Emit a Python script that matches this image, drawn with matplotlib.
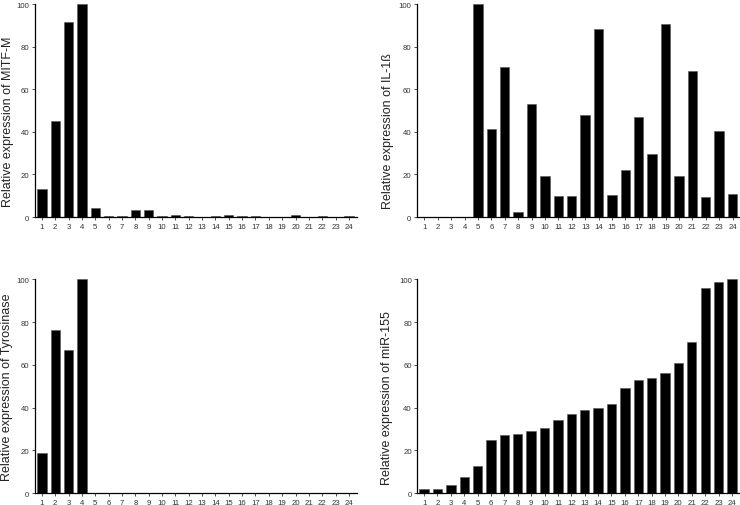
import numpy as np
import matplotlib
matplotlib.use('Agg')
import matplotlib.pyplot as plt

plt.rcParams['font.family'] = ['Liberation Sans', 'DejaVu Sans']

samples = list(range(1, 25))

mitf = [13, 45, 91.5, 100, 4.3, 0.3, 0.3, 3.3, 3.2, 0.3, 0.8, 0.3,
        0.1, 0.3, 0.8, 0.7, 0.3, 0.1, 0.1, 1.2, 0.1, 0.3, 0.1, 0.5]
il1b = [0, 0, 0, 0, 100, 41.4, 70.3, 2.3, 53.3, 19.5, 10, 10,
        47.8, 88.4, 10.2, 22.3, 46.9, 29.8, 90.8, 19.2, 68.8, 9.5, 40.3, 10.8]
tyr = [18.9, 76.4, 67.2, 100] + [0] * 20
mir155 = [2.0, 2.0, 3.6, 7.7, 12.5, 24.9, 27.2, 27.5, 29.1, 30.4, 34.3, 36.9,
          38.7, 39.7, 41.9, 49.0, 52.9, 53.7, 56.2, 60.7, 70.6, 95.9, 98.9, 100]

labels = ['Relative expression of MITF-M', 'Relative expression of IL-1ß',
          'Relative expression of Tyrosinase', 'Relative expression of miR-155']


def draw(ax, vals, label, xlim, lab_xy):
    ax.bar(samples, vals, width=0.7, color='black', edgecolor='#555555', linewidth=0.4)
    ax.set_xlim(*xlim)
    ax.set_ylim(0, 100)
    ax.set_xticks(samples)
    ax.set_yticks([0, 20, 40, 60, 80, 100])
    ax.tick_params(labelsize=5.6, length=2, width=0.6, pad=2, colors='#333333')
    for s in ['top', 'right']:
        ax.spines[s].set_visible(False)
    for s in ['left', 'bottom']:
        ax.spines[s].set_linewidth(0.9)
    ax.set_ylabel(label, fontsize=9, color='#222222')
    ax.yaxis.set_label_coords(*lab_xy)


fig = plt.figure(figsize=(7.4, 5.06), dpi=100)
ax1 = fig.add_axes([0.0473, 0.569, 0.435, 0.421])
ax2 = fig.add_axes([0.5635, 0.569, 0.435, 0.421])
ax3 = fig.add_axes([0.0473, 0.0237, 0.435, 0.422])
ax4 = fig.add_axes([0.5640, 0.0237, 0.436, 0.422])

draw(ax1, mitf, labels[0], (0.48, 24.6), (-0.066, 0.45))
draw(ax2, il1b, labels[1], (0.45, 24.47), (-0.072, 0.41))
draw(ax3, tyr, labels[2], (0.48, 24.6), (-0.069, 0.50))
draw(ax4, mir155, labels[3], (0.5, 24.6), (-0.076, 0.45))

fig.savefig('out.png', dpi=100)
